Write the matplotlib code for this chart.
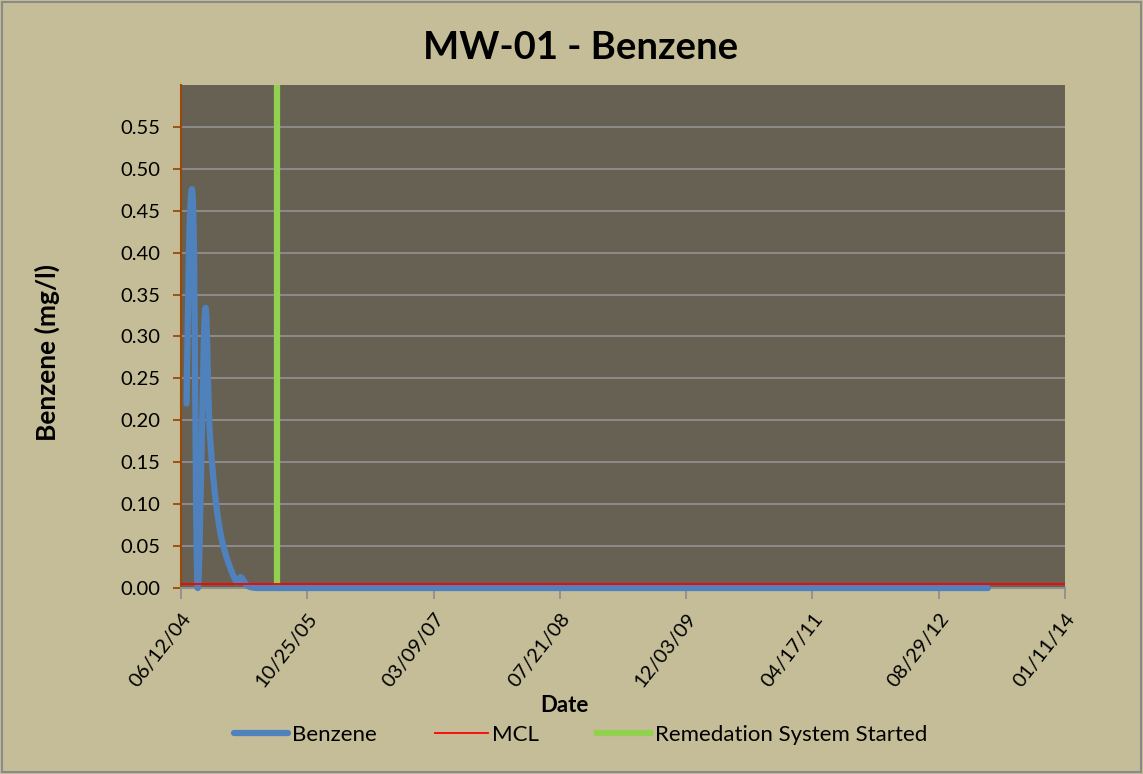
import numpy as np
import matplotlib
matplotlib.use("Agg")
import matplotlib.pyplot as plt
import matplotlib.dates as mdates
from datetime import date, timedelta

plt.rcParams['font.family'] = ['Lato', 'DejaVu Sans']

# sample dates and benzene results (mg/l)
sample_dates = ["2004-07-04", "2004-07-17", "2004-08-01", "2004-08-17", "2004-09-15",
                "2004-10-05", "2004-11-13", "2005-01-12", "2005-02-04", "2005-03-01",
                "2005-04-10", "2005-07-20", "2005-10-20", "2006-01-20", "2006-06-15",
                "2007-01-15", "2007-07-15", "2008-01-15", "2008-07-15", "2009-01-15",
                "2009-07-15", "2010-01-15", "2010-07-15", "2011-01-15", "2011-07-15",
                "2012-01-15", "2012-07-15", "2013-03-12"]
benzene = [0.22, 0.44, 0.43, 0.0, 0.33,
           0.18, 0.069, 0.01, 0.013, 0.003,
           0.0, 0.0, 0.0, 0.0, 0.0,
           0.0, 0.0, 0.0, 0.0, 0.0,
           0.0, 0.0, 0.0, 0.0, 0.0,
           0.0, 0.0, 0.0]
mcl = 0.005
remediation_start = "2005-06-27"

start = date(2004, 6, 12)
tick_dates = [start + timedelta(days=500 * k) for k in range(8)]
y_ticks = np.arange(0, 0.551, 0.05)


def smooth(x, y, n=30):
    # catmull-rom curve through the points, like Excel's smoothed line
    x = np.asarray(x, float)
    y = np.asarray(y, float)
    px = np.concatenate([[x[0]], x, [x[-1]]])
    py = np.concatenate([[y[0]], y, [y[-1]]])
    xs, ys = [], []
    t = np.linspace(0, 1, n)
    for i in range(1, len(px) - 2):
        for arr, out in ((px, xs), (py, ys)):
            p0, p1, p2, p3 = arr[i - 1], arr[i], arr[i + 1], arr[i + 2]
            out.append(0.5 * (2 * p1 + (-p0 + p2) * t
                              + (2 * p0 - 5 * p1 + 4 * p2 - p3) * t ** 2
                              + (-p0 + 3 * p1 - 3 * p2 + p3) * t ** 3))
    return np.concatenate(xs), np.concatenate(ys)


xd = mdates.datestr2num(sample_dates)
sx, sy = smooth(xd, benzene)
sy = np.clip(sy, 0, None)

fig = plt.figure(figsize=(11.43, 7.74), dpi=100, facecolor='#C4BD97')
fig.patches.append(plt.Rectangle((0.002, 0.003), 0.996, 0.994, transform=fig.transFigure,
                                 fill=False, edgecolor='#8a8a8a', linewidth=1.5))
ax = fig.add_axes([181 / 1143, 1 - 588 / 774, 884 / 1143, 503 / 774])
ax.set_facecolor('#666152')

ax.set_xlim(mdates.date2num(tick_dates[0]), mdates.date2num(tick_dates[-1]))
ax.set_ylim(0, 0.6)

ax.grid(axis='y', color='#8f8f8f', linewidth=1.3)
ax.set_axisbelow(True)

ax.plot(sx, sy, color='#4F81BD', linewidth=4.5, solid_capstyle='round', label='Benzene',
        zorder=3, clip_on=False)
ax.axhline(mcl, color='#FF0000', linewidth=1.3, label='MCL', zorder=4)
ax.axvline(mdates.datestr2num(remediation_start), color='#92D050', linewidth=4.5,
           label='Remedation System Started', zorder=2)

ax.set_yticks(y_ticks)
ax.set_yticklabels([f"{v:.2f}" for v in y_ticks], fontsize=14.5)
ax.set_xticks(mdates.date2num(tick_dates))
ax.set_xticklabels([d.strftime("%m/%d/%y") for d in tick_dates], rotation=52,
                   ha='right', rotation_mode='anchor', fontsize=14.5)

for s in ('top', 'right'):
    ax.spines[s].set_visible(False)
ax.spines['left'].set_color('#984807')
ax.spines['left'].set_linewidth(1.5)
ax.spines['bottom'].set_color('#8f8f8f')
ax.spines['bottom'].set_linewidth(1.5)
ax.tick_params(axis='y', color='#984807', length=6, width=1.3, pad=9)
ax.tick_params(axis='x', color='#8f8f8f', length=8, width=1.3, pad=8)

fig.text(0.508, 1 - 48 / 774, 'MW-01 - Benzene', fontsize=27.5, fontweight='bold',
         ha='center', va='center')
ax.set_ylabel('Benzene (mg/l)', fontsize=19, fontweight='bold')
ax.yaxis.set_label_coords(-0.137, 0.469)
ax.set_xlabel('Date', fontsize=16, fontweight='bold')
ax.xaxis.set_label_coords(0.434, -0.233)
ax.xaxis.label.set_va('center')

fig.legend(loc='center', bbox_to_anchor=(0.508, 1 - 735 / 774), ncol=3, frameon=False,
           fontsize=16, handlelength=2.4, handletextpad=0.2, columnspacing=2.6)

fig.savefig('out.png', dpi=100, facecolor=fig.get_facecolor())
